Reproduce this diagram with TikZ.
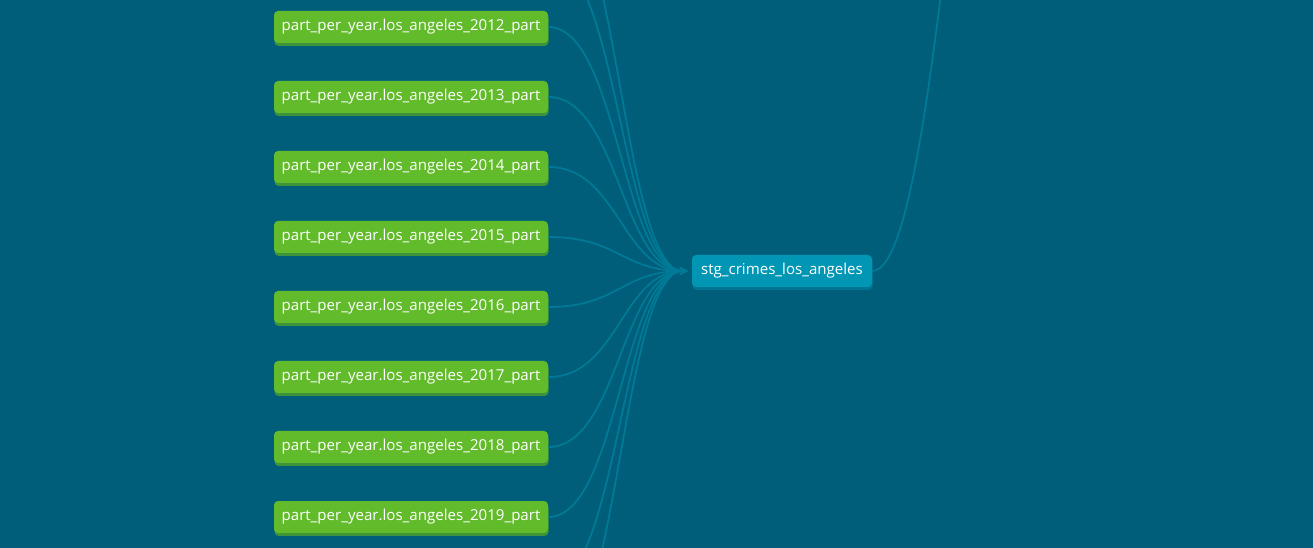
\documentclass[tikz,border=0pt]{standalone}
\usepackage{fontspec}
\setmainfont{Open Sans}
\usetikzlibrary{arrows.meta,shadows}

\definecolor{dbtbg}{RGB}{0,94,122}
\definecolor{dbtedge}{RGB}{0,122,150}
\definecolor{srcgreen}{RGB}{98,187,42}
\definecolor{srcshade}{RGB}{62,148,58}
\definecolor{stgblue}{RGB}{0,150,180}
\definecolor{stgshade}{RGB}{0,118,148}

\tikzset{
  partbox/.style={fill=srcgreen, rounded corners=3pt, text=white, inner sep=0pt,
    minimum width=205.5pt, minimum height=24pt, font=\fontsize{11.3}{13}\selectfont,
    drop shadow={shadow xshift=0.4pt, shadow yshift=-2.2pt, opacity=1, fill=srcshade}},
  stgbox/.style={fill=stgblue, rounded corners=3pt, text=white, inner sep=0pt,
    minimum width=135pt, minimum height=24pt, font=\fontsize{11.3}{13}\selectfont,
    drop shadow={shadow xshift=0.4pt, shadow yshift=-2.2pt, opacity=1, fill=stgshade}},
  lineage/.style={draw=dbtedge, line width=1.3pt, -{Stealth[length=6pt,width=6pt]}, shorten >=3pt}
}

\begin{document}
\begin{tikzpicture}[x=0.75pt,y=0.75pt,yscale=-1,xscale=1]
\useasboundingbox (0,0) rectangle (1313,548);
\fill [dbtbg] (0,0) rectangle (1313,548);
\clip (0,0) rectangle (1313,548);

%Sources above and below the frame
\coordinate (p2010) at (548,-113);
\coordinate (p2011) at (548,-43);
\coordinate (p2020) at (548,587);
\coordinate (p2021) at (548,657);
%Next model, out of frame
\coordinate (fct) at (1032,-450);

% Text Node
\node [partbox] (p2012) at (411,27) {part\_per\_year.los\_angeles\_2012\_part};
% Text Node
\node [partbox] (p2013) at (411,97) {part\_per\_year.los\_angeles\_2013\_part};
% Text Node
\node [partbox] (p2014) at (411,167) {part\_per\_year.los\_angeles\_2014\_part};
% Text Node
\node [partbox] (p2015) at (411,237) {part\_per\_year.los\_angeles\_2015\_part};
% Text Node
\node [partbox] (p2016) at (411,307) {part\_per\_year.los\_angeles\_2016\_part};
% Text Node
\node [partbox] (p2017) at (411,377) {part\_per\_year.los\_angeles\_2017\_part};
% Text Node
\node [partbox] (p2018) at (411,447) {part\_per\_year.los\_angeles\_2018\_part};
% Text Node
\node [partbox] (p2019) at (411,517) {part\_per\_year.los\_angeles\_2019\_part};

% Text Node
\node [stgbox] (stg) at (782,271) {stg\_crimes\_los\_angeles};

%Edges into stg
\draw [lineage] (p2010) .. controls +(70,0) and +(-70,0) .. (stg.west);
\draw [lineage] (p2011) .. controls +(70,0) and +(-70,0) .. (stg.west);
\draw [lineage] (p2012.east) .. controls +(70,0) and +(-70,0) .. (stg.west);
\draw [lineage] (p2013.east) .. controls +(70,0) and +(-70,0) .. (stg.west);
\draw [lineage] (p2014.east) .. controls +(70,0) and +(-70,0) .. (stg.west);
\draw [lineage] (p2015.east) .. controls +(70,0) and +(-70,0) .. (stg.west);
\draw [lineage] (p2016.east) .. controls +(70,0) and +(-70,0) .. (stg.west);
\draw [lineage] (p2017.east) .. controls +(70,0) and +(-70,0) .. (stg.west);
\draw [lineage] (p2018.east) .. controls +(70,0) and +(-70,0) .. (stg.west);
\draw [lineage] (p2019.east) .. controls +(70,0) and +(-70,0) .. (stg.west);
\draw [lineage] (p2020) .. controls +(70,0) and +(-70,0) .. (stg.west);
\draw [lineage] (p2021) .. controls +(70,0) and +(-70,0) .. (stg.west);

%Edge out of stg
\draw [lineage] (stg.east) .. controls +(70,0) and +(-70,0) .. (fct);

\end{tikzpicture}
\end{document}
